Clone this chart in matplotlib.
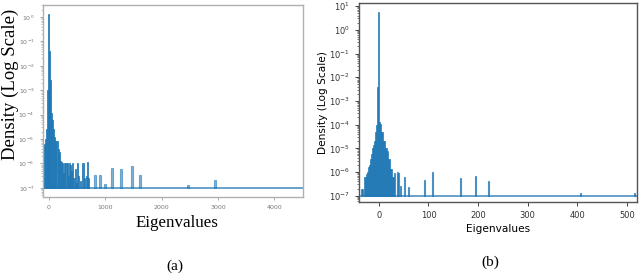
import numpy as np
import matplotlib.pyplot as plt

# ---- panel (a) : bulk histogram (bin centres, density) ----
a_bulk_x = [-90, -70, -50, -30, -10, 0, 10, 30, 50, 70, 90, 110, 130, 150, 170,
            190, 210, 230, 250, 270, 290, 310, 330, 350, 370, 390, 410, 430,
            450, 470, 490, 510, 530, 570, 610, 630, 670, 690, 710]
a_bulk_y = [5.5e-6, 6e-6, 1e-5, 2.5e-5, 1e-3, 1.3, 4e-2, 2.5e-3, 1.2e-4, 6e-5,
            2.5e-5, 1.2e-5, 8e-6, 8e-6, 4e-6, 3e-6, 1.3e-6, 1.1e-6, 1e-6, 4e-7,
            1e-6, 1e-6, 1e-6, 3e-7, 1e-6, 9e-7, 5e-7, 1e-6, 2.5e-7, 6e-7,
            1.6e-7, 1.05e-6, 3e-7, 2e-7, 1e-6, 2.5e-7, 3e-7, 1.1e-6, 2.5e-7]
# isolated spikes
a_spike_x = [823, 906, 1000, 1119, 1279, 1480, 1616, 2463, 2948]
a_spike_y = [3.5e-7, 3.5e-7, 1.4e-7, 6.8e-7, 5.8e-7, 8e-7, 3.5e-7, 1.3e-7, 2.1e-7]

# ---- panel (b) ----
b_bulk_x = [-36, -34, -30, -28, -26, -24, -22, -20, -18, -16, -14, -12, -10,
            -8, -6, -4, -2, 0, 2, 4, 6, 8, 10, 12, 14, 16, 18, 20, 22, 24,
            26, 28, 30]
b_bulk_y = [2e-7, 2e-7, 1.3e-7, 6e-7, 6.3e-7, 8e-7, 1e-6, 1.6e-6, 2e-6,
            3.5e-6, 6e-6, 1e-5, 1.4e-5, 2e-5, 5e-5, 1e-4, 4e-3, 5.6, 1.3e-4,
            1.1e-4, 5e-5, 5e-5, 2e-5, 2e-5, 1e-5, 1e-5, 8e-6, 3.5e-6,
            3.5e-6, 1.3e-6, 1.3e-6, 6e-7, 6e-7]
b_spike_x = [32, 37, 40, 44, 51, 59, 91, 109, 165, 195, 221, 406, 516]
b_spike_y = [9e-7, 1e-6, 9e-7, 2.5e-7, 6e-7, 2.3e-7, 4.5e-7, 1.05e-6, 5.5e-7,
             6.5e-7, 4e-7, 1.3e-7, 1.3e-7]

floor = 1e-7
blue = '#1f77b4'

fig = plt.figure(figsize=(6.4, 2.75), dpi=100)

# ---------------- (a) ----------------
ax1 = fig.add_axes([0.067, 0.284, 0.406, 0.698])
ax1.bar(a_bulk_x, np.array(a_bulk_y) - floor, width=20, bottom=floor,
        color=blue, alpha=0.9, edgecolor=blue, linewidth=0.6)
ax1.bar(a_spike_x, np.array(a_spike_y) - floor, width=35, bottom=floor,
        color=blue, alpha=0.55, edgecolor=blue, linewidth=0.8)
ax1.axhline(floor, color=blue, lw=1.2, alpha=0.8)
ax1.set_yscale('log')
ax1.set_xlim(-100, 4500)
ax1.set_ylim(10**-7.37, 10**0.49)
ax1.set_xticks([0, 1000, 2000, 3000, 4000])
ax1.yaxis.set_major_locator(plt.LogLocator(base=10, numticks=12))
ax1.tick_params(labelsize=4.5, labelcolor='#777777', color='#999999',
                length=2.5, width=0.6)
ax1.tick_params(which='minor', length=1.5, width=0.4, color='#999999')
for s in ax1.spines.values():
    s.set_color('#b0b0b0')
    s.set_linewidth(1.0)

fig.text(0.016, 0.695, 'Density (Log Scale)', rotation=90, ha='center',
         va='center', family='Liberation Serif', fontsize=13.5)
fig.text(0.277, 0.19, 'Eigenvalues', ha='center', va='center',
         family='Liberation Serif', fontsize=12.2)
fig.text(0.273, 0.03, '(a)', ha='center', va='center',
         family='Liberation Serif', fontsize=11)

# ---------------- (b) ----------------
ax2 = fig.add_axes([0.561, 0.265, 0.434, 0.724])
ax2.bar(b_bulk_x, np.array(b_bulk_y) - floor, width=2, bottom=floor,
        color=blue, alpha=0.95, edgecolor=blue, linewidth=0.5)
ax2.bar(b_spike_x, np.array(b_spike_y) - floor, width=2, bottom=floor,
        color=blue, alpha=0.7, edgecolor=blue, linewidth=0.8)
ax2.axhline(floor, color=blue, lw=1.2, alpha=0.8)
ax2.set_yscale('log')
ax2.set_xlim(-40, 520)
ax2.set_ylim(10**-7.27, 10**1.13)
ax2.set_xticks([0, 100, 200, 300, 400, 500])
ax2.yaxis.set_major_locator(plt.LogLocator(base=10, numticks=12))
ax2.tick_params(labelsize=6, labelcolor='#333333', color='#444444',
                length=3, width=0.7)
ax2.tick_params(which='minor', length=1.8, width=0.5, color='#444444')
for s in ax2.spines.values():
    s.set_color('#555555')
    s.set_linewidth(1.0)
ax2.set_ylabel('Density (Log Scale)', fontsize=7.6, labelpad=1)
ax2.set_xlabel('Eigenvalues', fontsize=7.6, labelpad=3)
fig.text(0.766, 0.045, '(b)', ha='center', va='center',
         family='Liberation Serif', fontsize=11)

fig.savefig('out.png', dpi=100)
